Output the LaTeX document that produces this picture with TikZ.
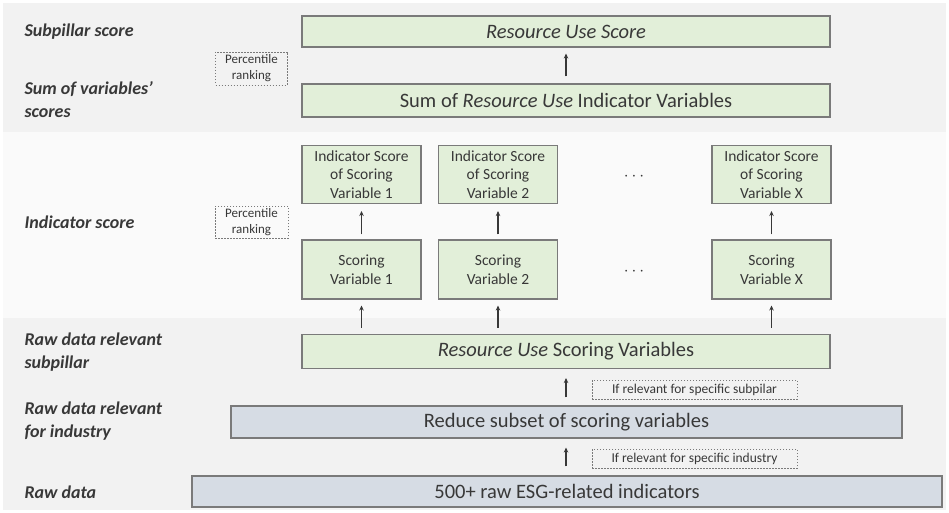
\documentclass[tikz,border=0pt]{standalone}
\usepackage{fontspec}
\setmainfont{Carlito}
\usetikzlibrary{arrows.meta}
\definecolor{txt}{HTML}{383838}
\definecolor{bord}{HTML}{7A7A7A}
\definecolor{grn}{HTML}{E2EFD9}
\definecolor{blu}{HTML}{D6DCE4}
\definecolor{bandA}{HTML}{F2F2F2}
\definecolor{bandB}{HTML}{FAFAFA}
\tikzset{
  box/.style={draw=bord, line width=1.1pt, text=txt, inner sep=0pt, align=center},
  gbox/.style={box, fill=grn},
  bbox/.style={box, fill=blu},
  bigtxt/.style={font=\fontsize{20.5}{24}\selectfont},
  smalltxt/.style={font=\fontsize{15.5}{18.5}\selectfont},
  dbox/.style={draw=bord, dashed, dash pattern=on 1.5pt off 1.5pt, line width=0.7pt, text=txt, inner sep=0pt, align=center},
  lbl/.style={anchor=west, text=txt, align=left, font=\fontsize{18}{23}\selectfont\bfseries\itshape},
  arr/.style={draw=txt, line width=1.4pt, -{Stealth[length=5pt,width=4.5pt]}},
}
\begin{document}
\begin{tikzpicture}[x=1pt,y=-1pt]
\useasboundingbox (0,0) rectangle (949,513);
% bands
\fill[white] (0,0) rectangle (949,513);
\fill[bandA] (3,3) rectangle (946,132);
\fill[bandB] (3,132) rectangle (946,318);
\fill[bandA] (3,318) rectangle (946,510);

% left labels
\node[lbl] (l1) at (21,32) {Subpillar score};
\node[lbl] (l2) at (21,100) {Sum of variables'\\scores};
\node[lbl] (l3) at (21,222) {Indicator score};
\node[lbl] (l4) at (21,352) {Raw data relevant\\subpillar};
\node[lbl] (l5) at (21,421.5) {Raw data relevant\\for industry};
\node[lbl] (l6) at (21,492) {Raw data};

% top section
\node[gbox, bigtxt, minimum width=528pt, minimum height=31pt] (rus) at (566,31.5) {\textit{Resource Use Score}};
\node[gbox, bigtxt, minimum width=528pt, minimum height=33pt] (sum) at (566,100.5) {Sum of \textit{Resource Use} Indicator Variables};
\node[dbox, font=\fontsize{13}{16}\selectfont, minimum width=72pt, minimum height=33pt] (pr1) at (251.5,68.5) {Percentile\\ranking};

% indicator section
\foreach \n/\x/\t in {1/361.5/1, 2/498/2, X/771.5/X}{
  \node[gbox, smalltxt, minimum width=119pt, minimum height=58pt] (is\n) at (\x,174.5) {Indicator Score\\of Scoring\\Variable \t};
  \node[gbox, smalltxt, minimum width=119pt, minimum height=59pt] (sv\n) at (\x,269.5) {Scoring\\Variable \t};
}
\node[text=txt, font=\fontsize{18}{18}\selectfont] (d1) at (634,177) {$\cdots$};
\node[text=txt, font=\fontsize{18}{18}\selectfont] (d2) at (634,272) {$\cdots$};
\node[dbox, font=\fontsize{13}{16}\selectfont, minimum width=73pt, minimum height=32pt] (pr2) at (251.5,222) {Percentile\\ranking};

% bottom section
\node[gbox, bigtxt, minimum width=528pt, minimum height=34pt] (rusv) at (566,351.5) {\textit{Resource Use} Scoring Variables};
\node[bbox, bigtxt, minimum width=671pt, minimum height=32pt] (red) at (566.5,422) {Reduce subset of scoring variables};
\node[bbox, bigtxt, minimum width=750pt, minimum height=31pt] (raw) at (567,491.5) {500+ raw ESG-related indicators};
\node[dbox, font=\fontsize{13.5}{15}\selectfont, minimum width=205pt, minimum height=19pt] (rel1) at (694.5,389.5) {If relevant for specific subpilar};
\node[dbox, font=\fontsize{13.5}{15}\selectfont, minimum width=205pt, minimum height=19pt] (rel2) at (694.5,458.5) {If relevant for specific industry};

% arrows
\draw[arr, shorten <=7pt, shorten >=6pt] (sum.north -| rus) -- (rus.south);
\foreach \n in {1,2,X}{
  \draw[arr, shorten <=5pt, shorten >=7pt] (sv\n.north) -- (is\n.south);
  \draw[arr, shorten <=6pt, shorten >=6pt] (rusv.north -| sv\n) -- (sv\n.south);
}
\draw[arr, shorten <=8pt, shorten >=9pt] (red.north -| rus) -- (rusv.south -| rus);
\draw[arr, shorten <=9pt, shorten >=9pt] (raw.north -| rus) -- (red.south -| rus);
\end{tikzpicture}
\end{document}
